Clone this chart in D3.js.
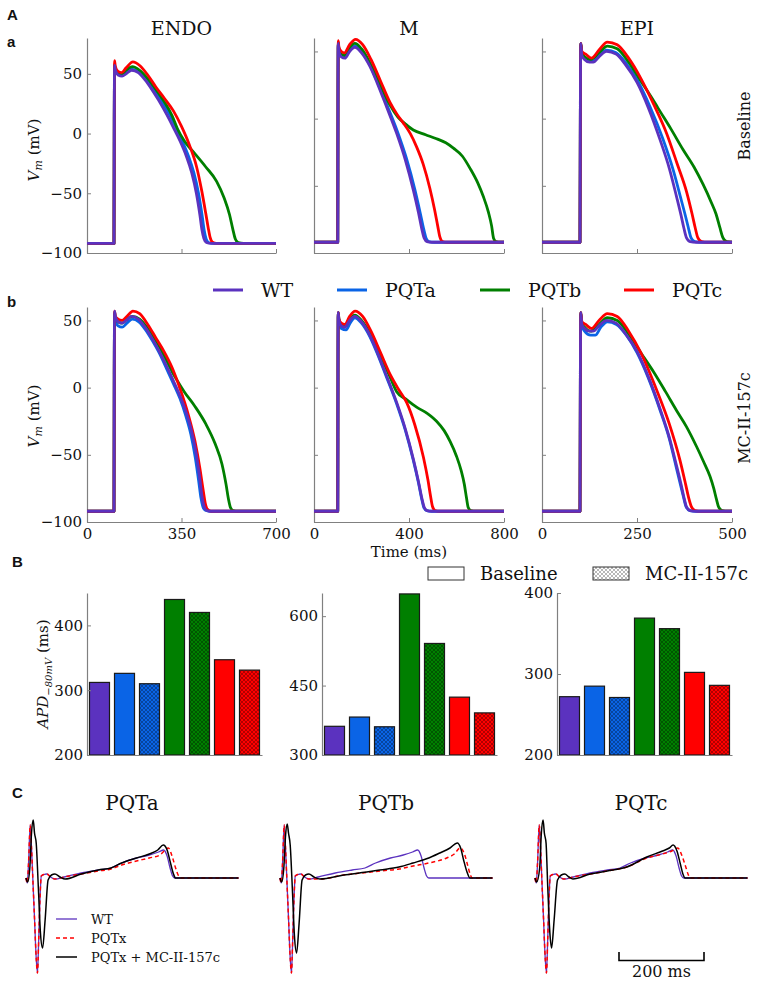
<!DOCTYPE html>
<html><head><meta charset="utf-8">
<script src="https://cdn.jsdelivr.net/npm/d3@7"></script>
<style>
body{margin:0;background:#fff}
svg text{font-family:"DejaVu Serif",serif;fill:#111}
</style>
</head><body>
<svg id="c" width="773" height="981"></svg>
<script>
// ---------------- DATA ----------------
const cellTypes = ["ENDO", "M", "EPI"];
const seriesNames = ["WT", "PQTa", "PQTb", "PQTc"];
const timeMax = [700, 800, 500];
const timeTicks = [[0, 350, 700], [0, 400, 800], [0, 250, 500]];
const vTicks = [-100, -50, 0, 50];
const vTopBaseline = [80, 60, 60];
const vTopDrug = [60, 60, 60];

// [time ms, Vm mV]
const endoWT = [[0,-92],[100,-92],[101,10],[102,57],[105,53],[115,49],[130,48],[145,50],[165,53],[190,51],[215,45],[240,37],[265,28],[295,16],[320,5],[344,-6],[368,-19],[388,-33],[405,-50],[418,-68],[426,-81],[433,-88],[442,-91.2],[460,-92],[700,-92]];
const endoPQTa = [[0,-92],[100,-92],[101,10],[102,57],[105,53],[115,50],[130,49],[145,51],[165,54],[190,52],[217,46],[243,38],[270,29],[300,18],[328,6],[352,-6],[376,-19],[396,-33],[413,-50],[426,-68],[434,-81],[441,-88],[450,-91.2],[468,-92],[700,-92]];
const endoPQTb = [[0,-92],[100,-92],[101,10],[102,58],[105,54],[115,51],[130,50],[145,53],[168,56],[195,53],[225,46],[255,37],[285,27],[315,15],[335,4],[360,-6],[400,-17],[440,-28],[480,-40],[508,-54],[528,-68],[540,-80],[549,-88],[560,-91.3],[580,-92],[700,-92]];
const endoPQTc = [[0,-92],[100,-92],[101,10],[102,61],[105,56],[115,52],[128,51],[145,55],[170,60],[195,57],[225,49],[255,39],[285,30],[320,19],[350,6],[380,-10],[406,-28],[425,-48],[440,-67],[449,-79],[456,-87],[465,-91],[480,-92],[700,-92]];
const endoPQTaMC = [[0,-92],[100,-92],[101,10],[102,55],[105,50],[115,46],[130,45],[148,48],[168,51],[192,49],[217,43],[242,35],[267,26],[295,14],[320,3],[344,-8],[366,-21],[385,-35],[401,-52],[414,-70],[422,-82],[429,-88.5],[438,-91.3],[455,-92],[700,-92]];
const endoPQTbMC = [[0,-92],[100,-92],[101,10],[102,56],[105,52],[115,49],[130,48],[148,51],[168,53],[195,51],[225,44],[255,35],[285,24],[315,12],[335,5],[360,-3],[400,-14],[440,-27],[475,-42],[500,-57],[515,-72],[524,-83],[531,-89],[541,-91.5],[560,-92],[700,-92]];
const endoPQTcMC = [[0,-92],[100,-92],[101,10],[102,57],[105,53],[115,51],[130,50],[148,53],[170,57],[195,55],[225,47],[255,37],[285,27],[315,15],[345,-1],[375,-20],[400,-40],[418,-60],[430,-76],[438,-86],[446,-90.5],[460,-92],[700,-92]];

const mWT = [[0,-92],[100,-92],[101,10],[102,56],[105,50],[115,46],[130,45],[150,50],[172,53],[200,49],[235,39],[265,27],[305,9],[348,-11],[385,-31],[418,-53],[440,-70],[455,-83],[464,-89],[476,-91.5],[495,-92],[800,-92]];
const mPQTa = [[0,-92],[100,-92],[101,10],[102,56],[105,51],[115,47],[130,46],[150,51],[172,54],[200,50],[235,40],[265,28],[305,11],[350,-9],[390,-30],[425,-53],[447,-70],[463,-83],[472,-89],[484,-91.5],[505,-92],[800,-92]];
const mPQTb = [[0,-92],[100,-92],[101,10],[102,57],[105,52],[115,48],[130,47],[150,53],[172,56],[200,52],[240,40],[280,25],[320,10],[354,1],[385,-4],[418,-8.5],[470,-12],[516,-15],[555,-18],[587,-22],[625,-28],[657,-37],[690,-48],[713,-58],[735,-70],[748,-80],[756,-89],[766,-91.5],[785,-92],[800,-92]];
const mPQTc = [[0,-92],[100,-92],[101,10],[102,58],[105,53],[115,50],[128,49],[150,55],[175,59],[205,55],[240,44],[280,28],[320,12],[350,3],[375,-3],[405,-11],[432,-21],[460,-34],[488,-52],[508,-68],[521,-80],[530,-88],[541,-91.5],[560,-92],[800,-92]];
const mPQTaMC = [[0,-92],[100,-92],[101,10],[102,55],[105,49],[115,44],[135,43],[152,48],[172,52],[200,48],[235,38],[265,26],[305,8],[348,-12],[385,-32],[418,-54],[440,-71],[455,-84],[463,-89.5],[475,-91.5],[495,-92],[800,-92]];
const mPQTbMC = [[0,-92],[100,-92],[101,10],[102,56],[105,51],[115,47],[130,46],[150,51],[172,54],[200,50],[240,39],[280,24],[320,8],[348,-3],[390,-9],[432,-14.5],[475,-19],[516,-25],[548,-32],[573,-40],[600,-51],[620,-62],[633,-72],[642,-82],[649,-89],[660,-91.5],[680,-92],[800,-92]];
const mPQTcMC = [[0,-92],[100,-92],[101,10],[102,56],[105,51],[115,48],[130,47],[150,53],[173,57],[205,53],[240,42],[280,26],[320,10],[355,-1],[390,-11],[425,-28],[461,-52],[480,-69],[491,-81],[499,-88.5],[510,-91.5],[530,-92],[800,-92]];

const epiWT = [[0,-92],[100,-92],[101,10],[102,56],[105,47],[112,44],[125,42],[135,42],[150,46],[170,50],[195,48],[220,40],[250,27],[280,8],[311,-16],[335,-37],[354,-58],[366,-72],[373,-81],[380,-88.5],[390,-91.5],[405,-92],[500,-92]];
const epiPQTa = [[0,-92],[100,-92],[101,10],[102,56],[105,48],[112,45],[125,43],[135,43],[150,47],[170,51],[195,49],[222,41],[252,28],[284,9],[318,-15],[345,-38],[365,-59],[378,-73],[385,-81],[392,-88.5],[402,-91.5],[418,-92],[500,-92]];
const epiPQTb = [[0,-92],[100,-92],[101,10],[102,56],[105,49],[112,46],[128,44],[150,49],[172,54],[198,52],[228,42],[260,28],[290,15],[305,8],[340,-8],[371,-23],[400,-36],[424,-49],[445,-62],[458,-71],[468,-81],[476,-88.5],[486,-91.5],[500,-92]];
const epiPQTc = [[0,-92],[100,-92],[101,10],[102,56],[105,50],[115,48],[130,45],[150,51],[172,57],[198,55],[228,45],[260,30],[295,10],[328,-11],[355,-33],[381,-55],[395,-71],[403,-81],[410,-88.5],[420,-91.5],[435,-92],[500,-92]];
const epiPQTaMC = [[0,-92],[100,-92],[101,10],[102,55],[105,46],[112,42],[128,39],[140,39],[155,45],[172,49],[196,47],[222,39],[250,26],[280,7],[311,-17],[335,-38],[353,-59],[365,-73],[372,-81],[379,-88.5],[389,-91.5],[405,-92],[500,-92]];
const epiPQTbMC = [[0,-92],[100,-92],[101,10],[102,56],[105,48],[112,45],[128,42],[150,47],[172,52],[198,50],[228,40],[260,26],[293,12],[325,-3],[354,-17],[380,-29],[407,-44],[425,-55],[442,-66],[452,-75],[459,-83],[465,-89],[474,-91.5],[490,-92],[500,-92]];
const epiPQTcMC = [[0,-92],[100,-92],[101,10],[102,56],[105,49],[115,47],[130,44],[150,50],[172,55],[198,53],[228,42],[260,26],[302,-2],[335,-27],[363,-54],[378,-72],[386,-82],[393,-88.5],[403,-91.5],[420,-92],[500,-92]];

// APD-80mV (ms), per cell type [ENDO, M, EPI]
const barCategories = ["WT", "PQTa", "PQTa + MC-II-157c", "PQTb", "PQTb + MC-II-157c", "PQTc", "PQTc + MC-II-157c"];
const apdWT = [312, 362, 272];
const apdPQTa = [326, 382, 285];
const apdPQTaMC = [310, 361, 271];
const apdPQTb = [440, 648, 369];
const apdPQTbMC = [420, 541, 356];
const apdPQTc = [347, 425, 302];
const apdPQTcMC = [331, 391, 286];
const apdDomains = [[200, 450], [300, 650], [200, 400]];
const apdTicks = [[200, 300, 400], [300, 450, 600], [200, 300, 400]];

// pseudo-ECG [time ms, amplitude a.u.]
const ecgTitles = ["PQTa", "PQTb", "PQTc"];
const ecgLegend = ["WT", "PQTx", "PQTx + MC-II-157c"];
const ecgWT = [[0,0],[3,-0.05],[6,0.15],[10,0.53],[13,0.3],[16,0],[20,-0.4],[24,-0.8],[27,-0.95],[30,-0.6],[33,-0.2],[36,0.02],[42,0.035],[49,0.04],[58,0.01],[68,-0.01],[90,0.01],[130,0.05],[170,0.08],[200,0.1],[225,0.15],[260,0.2],[290,0.23],[312,0.26],[324,0.28],[332,0.22],[339,0.1],[345,0.02],[350,0],[500,0]];
const ecgPQTa = [[0,0],[3,-0.05],[6,0.15],[10,0.53],[13,0.3],[16,0],[20,-0.4],[24,-0.8],[27,-0.95],[30,-0.6],[33,-0.2],[36,0.02],[42,0.035],[49,0.04],[58,0.01],[68,-0.01],[90,0.01],[130,0.04],[170,0.07],[200,0.09],[225,0.13],[260,0.17],[290,0.2],[315,0.23],[335,0.3],[345,0.2],[352,0.1],[358,0.03],[364,0],[500,0]];
const ecgPQTaMC = [[0,0],[4,-0.04],[9,0.1],[13,0.45],[17,0.58],[20,0.45],[24,0.35],[29,-0.09],[34,-0.55],[39,-0.7],[45,-0.42],[52,-0.02],[60,0.03],[68,0.04],[80,0.01],[92,-0.01],[130,0.04],[170,0.08],[200,0.1],[225,0.15],[260,0.2],[290,0.24],[310,0.28],[323,0.33],[332,0.28],[340,0.15],[347,0.04],[352,0],[500,0]];
const ecgPQTb = [[0,0],[3,-0.05],[6,0.15],[10,0.53],[13,0.3],[16,0],[20,-0.4],[24,-0.8],[27,-0.95],[30,-0.6],[33,-0.2],[36,0.02],[42,0.035],[49,0.04],[58,0.01],[68,-0.01],[94,-0.01],[150,0.03],[204,0.055],[235,0.07],[280,0.09],[313,0.12],[350,0.15],[392,0.2],[410,0.24],[424,0.3],[434,0.24],[442,0.12],[448,0.03],[452,0],[500,0]];
const ecgPQTbMC = [[0,0],[4,-0.04],[9,0.1],[13,0.42],[17,0.54],[20,0.45],[24,0.33],[29,-0.1],[34,-0.58],[39,-0.75],[45,-0.45],[52,-0.02],[60,0.03],[68,0.04],[80,0.01],[94,-0.01],[150,0.03],[204,0.06],[235,0.08],[280,0.11],[313,0.15],[350,0.2],[376,0.25],[400,0.3],[417,0.35],[425,0.3],[432,0.18],[440,0.06],[447,0],[500,0]];
const ecgPQTc = [[0,0],[3,-0.05],[6,0.15],[10,0.53],[13,0.3],[16,0],[20,-0.4],[24,-0.8],[27,-0.95],[30,-0.6],[33,-0.2],[36,0.02],[42,0.035],[49,0.04],[58,0.01],[68,-0.01],[90,0.01],[130,0.04],[170,0.07],[216,0.11],[263,0.2],[300,0.24],[322,0.27],[336,0.3],[346,0.22],[354,0.12],[360,0.04],[365,0],[500,0]];
const ecgPQTcMC = [[0,0],[4,-0.04],[11,0.1],[15,0.45],[19,0.58],[22,0.45],[26,0.35],[30,-0.09],[35,-0.55],[39,-0.7],[45,-0.42],[53,-0.02],[62,0.03],[70,0.04],[80,0.01],[89,-0.01],[130,0.04],[170,0.07],[216,0.11],[263,0.21],[300,0.27],[316,0.3],[325,0.33],[334,0.27],[342,0.14],[348,0.04],[353,0],[500,0]];
const scaleBarMs = 200;

// ---------------- STYLE / LAYOUT ----------------
const colWT = "#5b32bf", colA = "#0a64e6", colB = "#007f00", colC = "#ff0000";
const axisCol = "#808080";
const svg = d3.select("#c");
const defs = svg.append("defs");

function hatch(id, bg, line) {
  const p = defs.append("pattern").attr("id", id).attr("patternUnits", "userSpaceOnUse")
    .attr("width", 4).attr("height", 4);
  p.append("rect").attr("width", 4).attr("height", 4).attr("fill", bg);
  p.append("path").attr("d", "M-1,1 l2,-2 M0,4 l4,-4 M3,5 l2,-2 M-1,3 l2,2 M0,0 l4,4 M3,-1 l2,2")
    .attr("stroke", line).attr("stroke-width", 0.7).attr("fill", "none");
}
hatch("hA", colA, "rgba(0,0,0,0.45)");
hatch("hB", colB, "rgba(0,0,0,0.45)");
hatch("hC", colC, "rgba(0,0,0,0.45)");
hatch("hL", "#ffffff", "#9a9a9a");

function styleAxis(g) {
  g.select(".domain").attr("stroke", axisCol).attr("stroke-width", 1.2);
  g.selectAll(".tick line").attr("stroke", axisCol);
  g.selectAll(".tick text").attr("fill", "#111").style("font-family", "DejaVu Serif, serif").style("font-size", "15px");
}

const apCols = [[87, 276], [314, 504], [542, 732]];

function drawAP(ci, yTopPx, yBotPx, vTop, traces, showXLabels) {
  const [x0, x1] = apCols[ci];
  const x = d3.scaleLinear().domain([0, timeMax[ci]]).range([x0, x1]);
  const y = d3.scaleLinear().domain([-100, vTop]).range([yBotPx, yTopPx]);
  const g = svg.append("g");
  const ya = g.append("g").attr("transform", `translate(${x0},0)`)
    .call(d3.axisLeft(y).tickValues(vTicks).tickSize(-4).tickSizeOuter(0).tickPadding(5)
      .tickFormat(ci === 0 ? d3.format("") : () => ""));
  styleAxis(ya);
  const xa = g.append("g").attr("transform", `translate(0,${yBotPx})`)
    .call(d3.axisBottom(x).tickValues(timeTicks[ci]).tickSize(-4).tickSizeOuter(0).tickPadding(6)
      .tickFormat(showXLabels ? d3.format("") : () => ""));
  styleAxis(xa);
  const line = d3.line().x(d => x(d[0])).y(d => y(d[1])).curve(d3.curveMonotoneX);
  traces.forEach(([data, col]) => {
    g.append("path").attr("d", line(data)).attr("fill", "none").attr("stroke", col)
      .attr("stroke-width", 2.8).attr("stroke-linejoin", "round");
  });
}

const rowA = [[endoWT, endoPQTa, endoPQTb, endoPQTc], [mWT, mPQTa, mPQTb, mPQTc], [epiWT, epiPQTa, epiPQTb, epiPQTc]];
const rowB = [[endoWT, endoPQTaMC, endoPQTbMC, endoPQTcMC], [mWT, mPQTaMC, mPQTbMC, mPQTcMC], [epiWT, epiPQTaMC, epiPQTbMC, epiPQTcMC]];

for (let ci = 0; ci < 3; ci++) {
  const a = rowA[ci], b = rowB[ci];
  drawAP(ci, 38, 253, vTopBaseline[ci], [[a[1], colA], [a[2], colB], [a[3], colC], [a[0], colWT]], false);
  drawAP(ci, 307, 522, vTopDrug[ci], [[b[1], colA], [b[2], colB], [b[3], colC], [b[0], colWT]], true);
  svg.append("text").attr("x", (apCols[ci][0] + apCols[ci][1]) / 2).attr("y", 35)
    .attr("text-anchor", "middle").style("font-size", "19px").text(cellTypes[ci]);
}

// y labels Vm
function vmLabel(cy) {
  const t = svg.append("text").attr("transform", `translate(39,${cy}) rotate(-90)`)
    .attr("text-anchor", "middle").style("font-size", "15px");
  t.append("tspan").style("font-style", "italic").text("V");
  t.append("tspan").style("font-style", "italic").style("font-size", "11px").attr("dy", 3).text("m");
  t.append("tspan").attr("dy", -3).text(" (mV)");
}
vmLabel(150);
vmLabel(416);

svg.append("text").attr("transform", "translate(750,126) rotate(-90)").attr("text-anchor", "middle")
  .style("font-size", "16px").text("Baseline");
svg.append("text").attr("transform", "translate(750,418) rotate(-90)").attr("text-anchor", "middle")
  .style("font-size", "16px").text("MC-II-157c");
svg.append("text").attr("x", 409).attr("y", 557).attr("text-anchor", "middle").style("font-size", "15px").text("Time (ms)");

// top legend
const legX = [213, 337, 480, 624];
const legCols = [colWT, colA, colB, colC];
seriesNames.forEach((s, i) => {
  svg.append("line").attr("x1", legX[i]).attr("x2", legX[i] + 30).attr("y1", 290).attr("y2", 290)
    .attr("stroke", legCols[i]).attr("stroke-width", 3);
  svg.append("text").attr("x", legX[i] + 48).attr("y", 297).style("font-size", "19px").text(s);
});

// ---------------- BAR CHARTS ----------------
const barX0 = [87, 322, 557];
const barFills = [colWT, colA, "url(#hA)", colB, "url(#hB)", colC, "url(#hC)"];
for (let ci = 0; ci < 3; ci++) {
  const vals = [apdWT[ci], apdPQTa[ci], apdPQTaMC[ci], apdPQTb[ci], apdPQTbMC[ci], apdPQTc[ci], apdPQTcMC[ci]];
  const x = d3.scaleBand().domain(barCategories).range([barX0[ci], barX0[ci] + 175]).paddingInner(0.2).paddingOuter(0.1);
  const y = d3.scaleLinear().domain(apdDomains[ci]).range([755, 593]);
  const g = svg.append("g");
  g.selectAll("rect").data(vals).join("rect")
    .attr("x", (d, i) => x(barCategories[i])).attr("width", x.bandwidth())
    .attr("y", d => y(d)).attr("height", d => 755 - y(d))
    .attr("fill", (d, i) => barFills[i]).attr("stroke", "#1a1a1a").attr("stroke-width", 1.2);
  const ya = g.append("g").attr("transform", `translate(${barX0[ci]},0)`)
    .call(d3.axisLeft(y).tickValues(apdTicks[ci]).tickSize(-4).tickSizeOuter(0).tickPadding(4));
  styleAxis(ya);
  const xa = g.append("g").attr("transform", "translate(0,755)")
    .call(d3.axisBottom(x).tickSize(0).tickSizeOuter(0).tickFormat(() => ""));
  styleAxis(xa);
}
{
  const t = svg.append("text").attr("transform", "translate(48,674) rotate(-90)")
    .attr("text-anchor", "middle").style("font-size", "15px");
  t.append("tspan").style("font-style", "italic").text("APD");
  t.append("tspan").style("font-style", "italic").style("font-size", "10px").attr("dy", 4).text("\u221280mV");
  t.append("tspan").attr("dy", -4).text(" (ms)");
}
// bar legend
svg.append("rect").attr("x", 428).attr("y", 567).attr("width", 36).attr("height", 13)
  .attr("fill", "#fff").attr("stroke", "#333").attr("stroke-width", 1);
svg.append("text").attr("x", 480).attr("y", 580).style("font-size", "18px").text("Baseline");
svg.append("rect").attr("x", 593).attr("y", 567).attr("width", 36).attr("height", 13)
  .attr("fill", "url(#hL)").attr("stroke", "#333").attr("stroke-width", 1);
svg.append("text").attr("x", 645).attr("y", 580).style("font-size", "18px").text("MC-II-157c");

// ---------------- ECG ----------------
const ecgX0 = [26, 280, 535];
const ecgSets = [[ecgPQTa, ecgPQTaMC], [ecgPQTb, ecgPQTbMC], [ecgPQTc, ecgPQTcMC]];
const yE = d3.scaleLinear().domain([-1, 0.6]).range([978, 818]);
for (let ci = 0; ci < 3; ci++) {
  const x = d3.scaleLinear().domain([0, 500]).range([ecgX0[ci], ecgX0[ci] + 212.5]);
  const line = d3.line().x(d => x(d[0])).y(d => yE(d[1])).curve(d3.curveMonotoneX);
  svg.append("path").attr("d", line(ecgWT)).attr("fill", "none").attr("stroke", colWT).attr("stroke-width", 1.3);
  svg.append("path").attr("d", line(ecgSets[ci][0])).attr("fill", "none").attr("stroke", colC)
    .attr("stroke-width", 1.5).attr("stroke-dasharray", "4,3");
  svg.append("path").attr("d", line(ecgSets[ci][1])).attr("fill", "none").attr("stroke", "#000").attr("stroke-width", 1.5);
  svg.append("text").attr("x", ecgX0[ci] + 106).attr("y", 810).attr("text-anchor", "middle")
    .style("font-size", "20px").text(ecgTitles[ci]);
}
// ECG legend
const eLegCols = [colWT, colC, "#000"];
const eLegY = [919, 938, 957];
ecgLegend.forEach((s, i) => {
  svg.append("line").attr("x1", 56).attr("x2", 77).attr("y1", eLegY[i]).attr("y2", eLegY[i])
    .attr("stroke", eLegCols[i]).attr("stroke-width", i === 0 ? 1.3 : 1.5)
    .attr("stroke-dasharray", i === 1 ? "4,3" : null);
  svg.append("text").attr("x", 91).attr("y", eLegY[i] + 4.5).style("font-size", "13px").text(s);
});
// scale bar
{
  const sx = d3.scaleLinear().domain([0, 500]).range([0, 212.5]);
  const x0 = 619, w = sx(scaleBarMs);
  svg.append("path").attr("d", `M${x0},952V960.5H${x0 + w}V952`).attr("fill", "none")
    .attr("stroke", "#000").attr("stroke-width", 1.6);
  svg.append("text").attr("x", x0 + w / 2).attr("y", 977).attr("text-anchor", "middle")
    .style("font-size", "16px").text(scaleBarMs + " ms");
}

// panel letters
const letters = [["A", 7, 20], ["a", 7, 47], ["b", 7, 307], ["B", 12, 567], ["C", 12, 798]];
letters.forEach(([s, x, y]) => {
  svg.append("text").attr("x", x).attr("y", y).style("font-family", "Liberation Sans, Arial, sans-serif")
    .style("font-weight", "bold").style("font-size", "15px").text(s);
});
</script>
</body></html>
